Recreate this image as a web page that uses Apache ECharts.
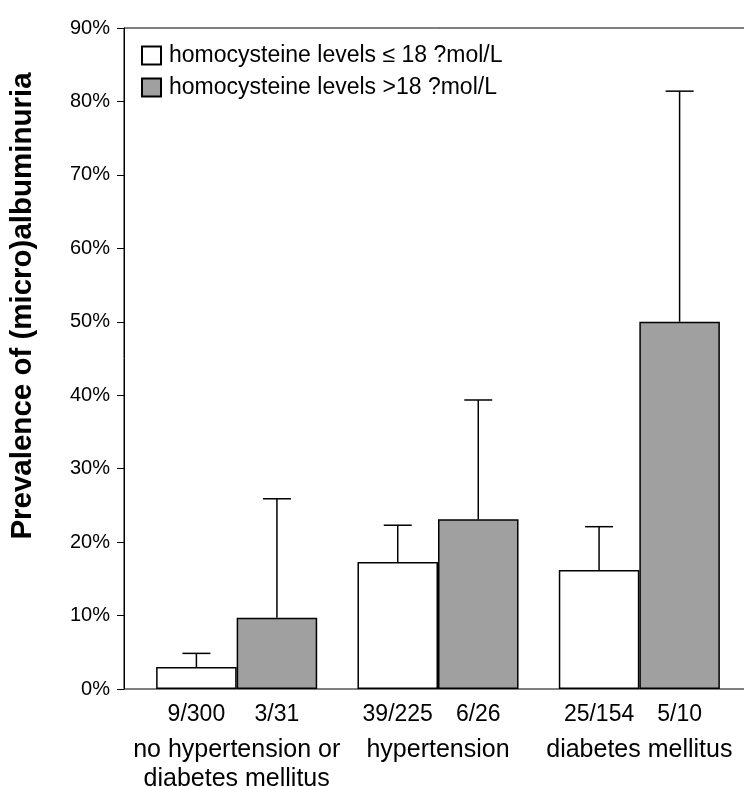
<!DOCTYPE html>
<html>
<head>
<meta charset="utf-8">
<script src="https://cdn.jsdelivr.net/npm/echarts@6/dist/echarts.min.js"></script>
<style>
  html, body { margin: 0; padding: 0; background: #fff; }
  #chart { width: 744px; height: 787px; }
</style>
</head>
<body>
<div id="chart"></div>
<script>
// Group labels along the x axis
const categories = ['no hypertension or\ndiabetes mellitus', 'hypertension', 'diabetes mellitus'];

// Legend names of the two homocysteine groups
const lowName = 'homocysteine levels \u2264 18 ?mol/L';
const highName = 'homocysteine levels >18 ?mol/L';

// Prevalence of (micro)albuminuria, in percent
const lowPrevalence = [3.0, 17.3, 16.2];
const highPrevalence = [9.7, 23.1, 50.0];

// Upper end of each error bar, in percent
const lowUpper = [4.85, 22.3, 22.1];
const highUpper = [25.9, 39.35, 81.4];

// Cases / group size printed under each bar
const lowCounts = ['9/300', '39/225', '25/154'];
const highCounts = ['3/31', '6/26', '5/10'];

// Value axis range and step
const yMin = 0;
const yMax = 90;
const yStep = 10;

const FONT = '"Liberation Sans", Arial, Helvetica, sans-serif';
const GAP = '0%';
const CAT_GAP = '20%';

function errorBar(barIndex) {
  return function (params, api) {
    const cat = api.value(0);
    const base = api.coord([cat, api.value(1)]);
    const top = api.coord([cat, api.value(2)]);
    const layout = api.barLayout({ barGap: GAP, barCategoryGap: CAT_GAP, count: 2 });
    const x = base[0] + layout[barIndex].offsetCenter;
    const half = 14;
    const style = { stroke: '#000', lineWidth: 1.5 };
    return {
      type: 'group',
      children: [
        { type: 'line', shape: { x1: x, y1: base[1], x2: x, y2: top[1] }, style: style },
        { type: 'line', shape: { x1: x - half, y1: top[1], x2: x + half, y2: top[1] }, style: style }
      ]
    };
  };
}

const chart = echarts.init(document.getElementById('chart'), null, { renderer: 'canvas' });

chart.setOption({
  animation: false,
  backgroundColor: '#fff',
  textStyle: { fontFamily: FONT, color: '#000' },
  grid: [
    // frame with the value axis
    {
      left: 124, right: -2, top: 28, bottom: 98,
      outerBoundsMode: 'none', containLabel: false,
      show: true, borderColor: '#000', borderWidth: 1, backgroundColor: 'transparent'
    },
    // area holding the bars
    { left: 136, right: 4, top: 28, bottom: 98, outerBoundsMode: 'none', containLabel: false }
  ],
  xAxis: [
    { gridIndex: 0, type: 'value', show: false },
    {
      gridIndex: 1,
      type: 'category',
      data: categories,
      axisLine: { show: false },
      axisTick: { show: false },
      axisLabel: { fontSize: 25, lineHeight: 29, color: '#000', margin: 47, fontFamily: FONT, interval: 0 }
    }
  ],
  yAxis: [
    {
      gridIndex: 0,
      type: 'value',
      min: yMin,
      max: yMax,
      interval: yStep,
      splitLine: { show: false },
      axisLine: { show: true, lineStyle: { color: '#000', width: 1 } },
      axisTick: { show: true, length: 7, lineStyle: { color: '#000', width: 1 } },
      axisLabel: { formatter: '{value}%', fontSize: 20, color: '#000', margin: 14, fontFamily: FONT }
    },
    { gridIndex: 1, type: 'value', min: yMin, max: yMax, interval: yStep, show: false }
  ],
  legend: {
    data: [lowName, highName],
    orient: 'vertical',
    left: 141,
    top: 44,
    padding: 0,
    itemWidth: 19,
    itemHeight: 18,
    itemGap: 9,
    icon: 'rect',
    textStyle: { fontSize: 23, color: '#000', fontFamily: FONT, padding: [0, 0, 0, 3] }
  },
  graphic: [
    {
      type: 'text',
      x: 22.5,
      y: 306,
      rotation: Math.PI / 2,
      style: {
        text: 'Prevalence of (micro)albuminuria',
        font: 'bold 29.5px ' + FONT,
        fill: '#000',
        textAlign: 'center',
        textVerticalAlign: 'middle'
      }
    }
  ],
  series: [
    {
      name: lowName,
      type: 'bar',
      xAxisIndex: 1,
      yAxisIndex: 1,
      data: lowPrevalence,
      barGap: GAP,
      barCategoryGap: CAT_GAP,
      itemStyle: { color: '#ffffff', borderColor: '#000', borderWidth: 1.5 },
      label: {
        show: true,
        position: 'bottom',
        distance: 14,
        fontSize: 23,
        color: '#000',
        fontFamily: FONT,
        formatter: function (p) { return lowCounts[p.dataIndex]; }
      }
    },
    {
      name: highName,
      type: 'bar',
      xAxisIndex: 1,
      yAxisIndex: 1,
      data: highPrevalence,
      barGap: GAP,
      barCategoryGap: CAT_GAP,
      itemStyle: { color: '#a0a0a0', borderColor: '#000', borderWidth: 1.5 },
      label: {
        show: true,
        position: 'bottom',
        distance: 14,
        fontSize: 23,
        color: '#000',
        fontFamily: FONT,
        formatter: function (p) { return highCounts[p.dataIndex]; }
      }
    },
    {
      name: 'lowError',
      type: 'custom',
      xAxisIndex: 1,
      yAxisIndex: 1,
      z: 3,
      renderItem: errorBar(0),
      data: lowPrevalence.map(function (v, i) { return [i, v, lowUpper[i]]; })
    },
    {
      name: 'highError',
      type: 'custom',
      xAxisIndex: 1,
      yAxisIndex: 1,
      z: 3,
      renderItem: errorBar(1),
      data: highPrevalence.map(function (v, i) { return [i, v, highUpper[i]]; })
    }
  ]
});
</script>
</body>
</html>
